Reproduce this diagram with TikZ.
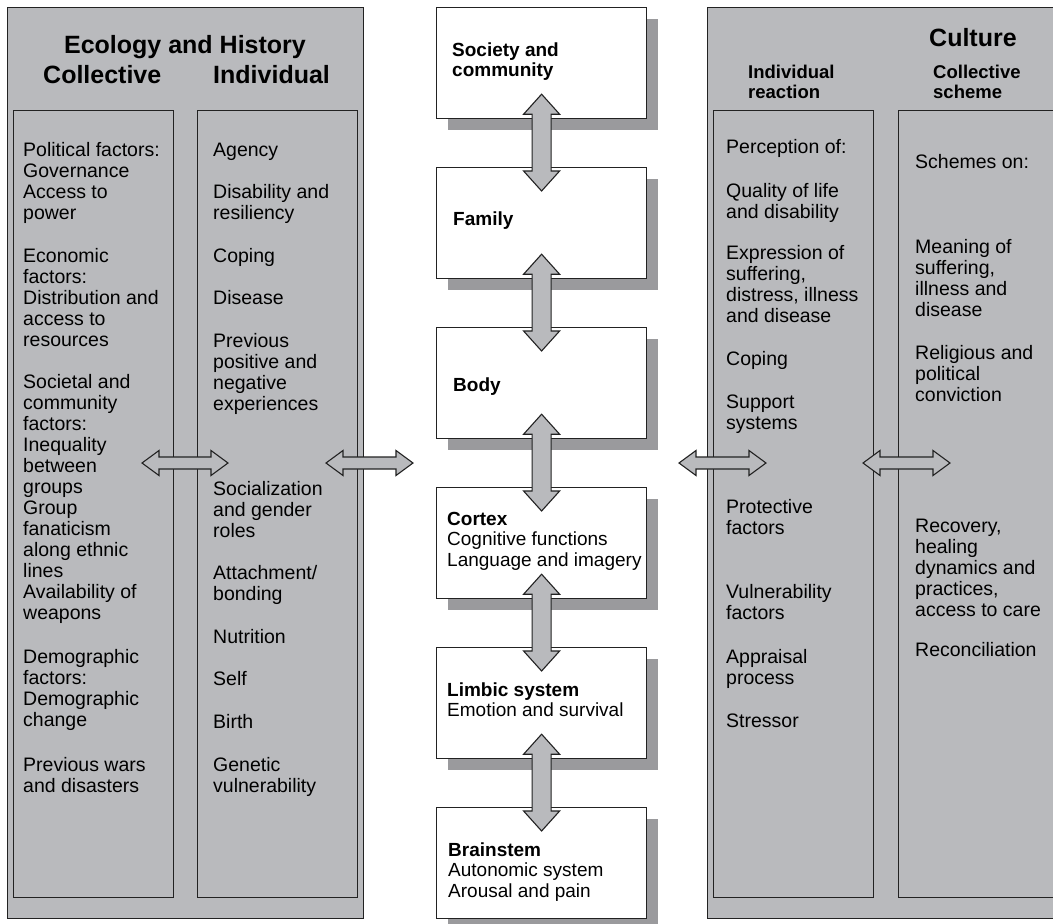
\documentclass[tikz,border=0pt]{standalone}
\usepackage{fontspec}
\setmainfont{Liberation Sans}
\usetikzlibrary{calc}
\definecolor{panelgray}{HTML}{B9BABD}
\definecolor{shadowgray}{HTML}{9A9A9D}
\definecolor{linec}{HTML}{222222}
\newcommand{\mlines}[1]{\begin{tabular}[t]{@{}l@{}}#1\end{tabular}}
\tikzset{
 panel/.style={draw=linec, line width=1.3pt, fill=panelgray, anchor=north west, inner sep=0pt, minimum width=356pt, minimum height=911pt},
 inbox/.style={draw=linec, line width=1.2pt, anchor=north west, inner sep=0pt, minimum width=160pt, minimum height=787pt},
 midbox/.style={draw=linec, line width=1.2pt, fill=white, anchor=north west, inner sep=0pt, minimum width=210pt, minimum height=111pt},
 txt/.style={anchor=base west, inner sep=0pt, font=\fontsize{19.5}{21}\selectfont},
 mtxt/.style={anchor=base west, inner sep=0pt, font=\fontsize{19}{20.5}\selectfont},
 head/.style={anchor=base west, inner sep=0pt, font=\fontsize{25}{30}\selectfont\bfseries},
 subhead/.style={anchor=base west, inner sep=0pt, font=\fontsize{18.5}{20}\selectfont\bfseries},
 blockarrow/.style={draw=linec, line width=1.1pt, fill=panelgray, line join=miter},
}
\begin{document}
\begin{tikzpicture}[x=1pt,y=-1pt]
\useasboundingbox (0,0) rectangle (1053,924);
\clip (0,0) rectangle (1053,924);
% side panels
\node[panel] (lp) at (7,7) {};
\node[panel] (rp) at (707,7) {};
\node[inbox] (lcol) at (13,110) {};
\node[inbox] (lind) at (197,110) {};
\node[inbox] (rind) at (713,110) {};
\node[inbox] (rcol) at (898,110) {};
% middle boxes with shadows
\foreach \n/\t in {soc/7,fam/167,body/327,cortex/487,limbic/647,brain/807} {
  \fill[shadowgray] (448,\t+12) rectangle (658,\t+123);
  \node[midbox] (\n) at (436,\t) {};
}
% headings
\node[head, anchor=base] (tEco) at (185,53) {Ecology and History};
\node[head] (tColl) at (43,83) {Collective};
\node[head] (tInd) at (213,83) {Individual};
\node[head] (tCult) at (929,46) {Culture};
\node[subhead] (tIR) at (748,78) {\mlines{\bfseries Individual\\\bfseries reaction}};
\node[subhead] (tCS) at (933,78) {\mlines{\bfseries Collective\\\bfseries scheme}};
% left collective column
\node[txt] (l1) at (23,156) {\mlines{Political factors:\\Governance\\Access to\\power}};
\node[txt] (l2) at (23,262) {\mlines{Economic\\factors:\\Distribution and\\access to\\resources}};
\node[txt] (l3) at (23,388) {\mlines{Societal and\\community\\factors:\\Inequality\\between\\groups\\Group\\fanaticism\\along ethnic\\lines\\Availability of\\weapons}};
\node[txt] (l4) at (23,663) {\mlines{Demographic\\factors:\\Demographic\\change}};
\node[txt] (l5) at (23,771) {\mlines{Previous wars\\and disasters}};
% left individual column
\node[txt] (i1) at (213,156) {Agency};
\node[txt] (i2) at (213,198) {\mlines{Disability and\\resiliency}};
\node[txt] (i3) at (213,262) {Coping};
\node[txt] (i4) at (213,304) {Disease};
\node[txt] (i5) at (213,347) {\mlines{Previous\\positive and\\negative\\experiences}};
\node[txt] (i6) at (213,495) {\mlines{Socialization\\and gender\\roles}};
\node[txt] (i7) at (213,579) {\mlines{Attachment/\\bonding}};
\node[txt] (i8) at (213,643) {Nutrition};
\node[txt] (i9) at (213,685) {Self};
\node[txt] (i10) at (213,728) {Birth};
\node[txt] (i11) at (213,771) {\mlines{Genetic\\vulnerability}};
% right individual reaction column
\node[txt] (r1) at (726,153) {Perception of:};
\node[txt] (r2) at (726,197) {\mlines{Quality of life\\and disability}};
\node[txt] (r3) at (726,259) {\mlines{Expression of\\suffering,\\distress, illness\\and disease}};
\node[txt] (r4) at (726,365) {Coping};
\node[txt] (r5) at (726,408) {\mlines{Support\\systems}};
\node[txt] (r6) at (726,513) {\mlines{Protective\\factors}};
\node[txt] (r7) at (726,598) {\mlines{Vulnerability\\factors}};
\node[txt] (r8) at (726,663) {\mlines{Appraisal\\process}};
\node[txt] (r9) at (726,727) {Stressor};
% right collective scheme column
\node[txt] (c1) at (915,168) {Schemes on:};
\node[txt] (c2) at (915,253) {\mlines{Meaning of\\suffering,\\illness and\\disease}};
\node[txt] (c3) at (915,359) {\mlines{Religious and\\political\\conviction}};
\node[txt] (c4) at (915,532) {\mlines{Recovery,\\healing\\dynamics and\\practices,\\access to care}};
\node[txt] (c5) at (915,656) {Reconciliation};
% middle texts
\node[mtxt] (m1) at (452,56) {\mlines{\bfseries Society and\\\bfseries community}};
\node[mtxt] (m2) at (453,225) {\bfseries Family};
\node[mtxt] (m3) at (453,391) {\bfseries Body};
\node[mtxt] (m4) at (447,525) {\mlines{\bfseries Cortex\\Cognitive functions\\Language and imagery}};
\node[mtxt] (m5) at (447,696) {\mlines{\bfseries Limbic system\\Emotion and survival}};
\node[mtxt] (m6) at (448,856) {\mlines{\bfseries Brainstem\\Autonomic system\\Arousal and pain}};
% vertical double arrows
\foreach \a/\b in {soc/fam,fam/body,body/cortex,cortex/limbic,limbic/brain} {
  \coordinate (t) at ($(\a.south)+(0,-25)$);
  \coordinate (u) at ($(\b.north)+(0,24)$);
  \draw[blockarrow] (t) -- ++(18,20) -- ++(-8.5,0) -- ($(u)+(9.5,-20)$) -- ++(8.5,0) -- (u)
     -- ++(-18,-20) -- ++(8.5,0) -- ($(t)+(-9.5,20)$) -- ++(-8.5,0) -- cycle;
}
% horizontal double arrows
\coordinate (h1l) at (142,463); \coordinate (h1r) at (228,463);
\coordinate (h2l) at (326,463); \coordinate (h2r) at (413,463);
\coordinate (h3l) at (679,463); \coordinate (h3r) at (766,463);
\coordinate (h4l) at (863,463); \coordinate (h4r) at (950,463);
\foreach \L/\R in {h1l/h1r,h2l/h2r,h3l/h3r,h4l/h4r} {
  \draw[blockarrow] (\L) -- ++(17,-12.5) -- ++(0,6.5) -- ($(\R)+(-17,-6)$) -- ++(0,-6.5) -- (\R)
     -- ++(-17,12.5) -- ++(0,-6.5) -- ($(\L)+(17,6)$) -- ++(0,6.5) -- cycle;
}
\end{tikzpicture}
\end{document}
